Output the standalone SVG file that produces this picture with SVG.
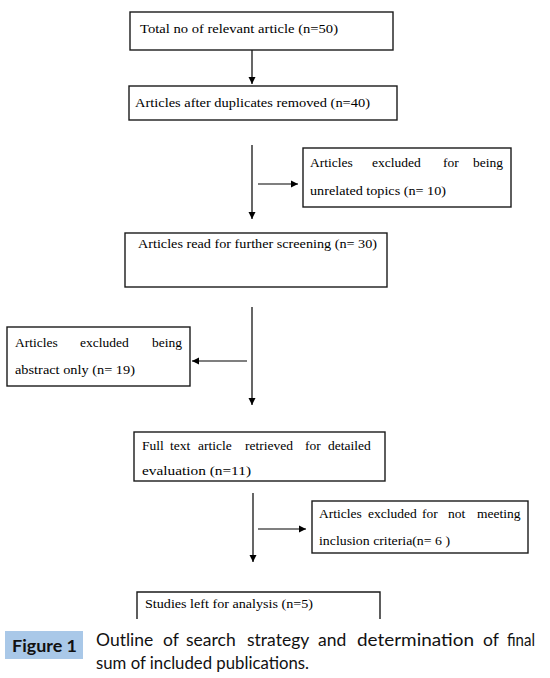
<svg xmlns="http://www.w3.org/2000/svg" width="550" height="678" viewBox="0 0 550 678">
<defs>
<marker id="ah" markerWidth="8" markerHeight="8" refX="7" refY="4" orient="auto" markerUnits="userSpaceOnUse">
<path d="M0,0.5 L7,4 L0,7.5 Z" fill="#000"/>
</marker>
<style>
.box{fill:#fff;stroke:#1a1a1a;stroke-width:1.4}
.t{font-family:"Liberation Serif","Times New Roman",serif;font-size:13.5px;fill:#000}
.c{stroke:#000;stroke-width:1.2;fill:none}
.cap{font-family:Lato,"Open Sans","Liberation Sans",sans-serif;font-size:17.5px;fill:#111}
</style>
</defs>
<rect width="550" height="678" fill="#fff"/>
<g id="connectors">
<line class="c" x1="252" y1="50" x2="252" y2="84" marker-end="url(#ah)"/>
<line class="c" x1="252" y1="145" x2="252" y2="219" marker-end="url(#ah)"/>
<line class="c" x1="258" y1="184" x2="298" y2="184" marker-end="url(#ah)"/>
<line class="c" x1="252" y1="307" x2="252" y2="405" marker-end="url(#ah)"/>
<line class="c" x1="247" y1="361" x2="192" y2="361" marker-end="url(#ah)"/>
<line class="c" x1="253" y1="493" x2="253" y2="562" marker-end="url(#ah)"/>
<line class="c" x1="258" y1="529" x2="306" y2="529" marker-end="url(#ah)"/>
</g>
<g id="n1">
<rect class="box" x="130" y="12" width="263" height="38"/>
<text class="t" x="140" y="33" textLength="198" lengthAdjust="spacingAndGlyphs">Total no of relevant article (n=50)</text>
</g>
<g id="n2">
<rect class="box" x="129" y="86" width="268" height="34"/>
<text class="t" x="135" y="107" textLength="235" lengthAdjust="spacingAndGlyphs">Articles  after duplicates removed (n=40)</text>
</g>
<g id="n3">
<rect class="box" x="303" y="148" width="208" height="59"/>
<text class="t" y="167"><tspan x="310">Articles</tspan><tspan x="372">excluded</tspan><tspan x="443">for</tspan><tspan x="473">being</tspan></text>
<text class="t" x="310" y="195" textLength="136" lengthAdjust="spacingAndGlyphs">unrelated topics (n= 10)</text>
</g>
<g id="n4">
<rect class="box" x="125" y="233" width="262" height="54"/>
<text class="t" x="138" y="248" textLength="239" lengthAdjust="spacingAndGlyphs">Articles read for further screening (n= 30)</text>
</g>
<g id="n5">
<rect class="box" x="7" y="327" width="183" height="59"/>
<text class="t" y="347"><tspan x="15">Articles</tspan><tspan x="80">excluded</tspan><tspan x="152">being</tspan></text>
<text class="t" x="15" y="374" textLength="120" lengthAdjust="spacingAndGlyphs">abstract only (n= 19)</text>
</g>
<g id="n6">
<rect class="box" x="134" y="432" width="251" height="49"/>
<text class="t" y="450"><tspan x="142">Full</tspan><tspan x="170">text</tspan><tspan x="198">article</tspan><tspan x="245">retrieved</tspan><tspan x="305">for</tspan><tspan x="328">detailed</tspan></text>
<text class="t" x="142" y="475" textLength="109" lengthAdjust="spacingAndGlyphs">evaluation (n=11)</text>
</g>
<g id="n7">
<rect class="box" x="312" y="501" width="216" height="52"/>
<text class="t" y="518"><tspan x="319">Articles</tspan><tspan x="368">excluded</tspan><tspan x="422">for</tspan><tspan x="448">not</tspan><tspan x="477">meeting</tspan></text>
<text class="t" x="319" y="545" textLength="131" lengthAdjust="spacingAndGlyphs">inclusion criteria(n= 6 )</text>
</g>
<g id="n8">
<path class="box" d="M137,619 L137,592 L380,592 L380,619" fill="none"/>
<text class="t" x="145" y="608" textLength="168" lengthAdjust="spacingAndGlyphs">Studies left for analysis (n=5)</text>
</g>
<g id="caption">
<rect x="5" y="631" width="78" height="28" fill="#a9c8e8"/>
<text class="cap" x="12" y="652" font-weight="bold" textLength="65" lengthAdjust="spacingAndGlyphs">Figure 1</text>
<text class="cap" y="646"><tspan x="96">Outline</tspan><tspan x="163">of</tspan><tspan x="186">search</tspan><tspan x="247">strategy</tspan><tspan x="318">and</tspan><tspan x="357" textLength="117" lengthAdjust="spacingAndGlyphs">determination</tspan><tspan x="483">of</tspan><tspan x="507" textLength="28" lengthAdjust="spacingAndGlyphs">final</tspan></text>
<text class="cap" x="96" y="669" textLength="213" lengthAdjust="spacingAndGlyphs">sum of included publications.</text>
</g>
</svg>
